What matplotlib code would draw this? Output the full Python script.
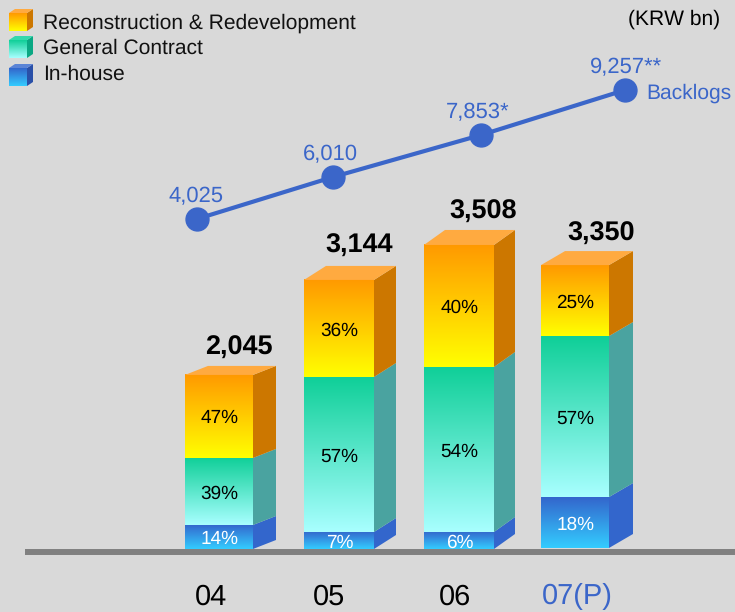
import matplotlib

matplotlib.use("Agg")
import matplotlib.pyplot as plt
import numpy as np
from matplotlib.colors import LinearSegmentedColormap
from matplotlib.patches import Polygon

plt.rcParams["font.family"] = ["Liberation Sans", "DejaVu Sans"]
plt.rcParams["text.hinting"] = "no_hinting"
plt.rcParams["text.hinting_factor"] = 1

years = ["04", "05", "06", "07(P)"]
totals = ["2,045", "3,144", "3,508", "3,350"]
inhouse = [281, 199, 199, 596]
general = [784, 1813, 1930, 1883]
recon = [971, 1135, 1427, 830]
inhouse_pct = ["14%", "7%", "6%", "18%"]
general_pct = ["39%", "57%", "54%", "57%"]
recon_pct = ["47%", "36%", "40%", "25%"]
backlog_labels = ["4,025", "6,010", "7,853*", "9,257**"]
backlog_levels = [3860, 4351, 4842, 5368]
legend_names = ["Reconstruction & Redevelopment", "General Contract", "In-house"]

BG = "#d9d9d9"
BLUE = "#3b66c9"
PX_PER_UNIT = 0.0855
BASE_PX = 549

# layout, in reference pixels
bar_left = [185, 304, 424, 541]
bar_right = [253, 374, 494, 609]
bar_depth = [(23, 9), (22, 14), (21, 15), (24, 14)]
bar_base = [549, 549, 549, 548]
line_x = [197, 333, 481, 625]
total_xy = [(239, 348), (359, 246), (483.5, 212), (601, 234)]
backlog_label_x = [196, 330, 478, 626]
year_x = [211, 329, 455, 577]

orange = ("#ff9900", "#ffff00", "#cc7700")
green = ("#0fcf98", "#a8ffff", "#4aa3a0")
blue = ("#3366cc", "#33ccff", "#3366cc")
roof = "#ffaa40"


def gradient(ax, left, right, top, bottom, c_top, c_bottom):
    cmap = LinearSegmentedColormap.from_list("g", [c_top, c_bottom])
    ramp = np.linspace(0, 1, 128).reshape(-1, 1)
    ax.imshow(ramp, cmap=cmap, extent=(left, right, bottom, top), aspect="auto",
              interpolation="bilinear", zorder=3)


def block(ax, left, right, top, bottom, dx, dy, colors):
    # front face plus the side face going up and to the right
    gradient(ax, left, right, top, bottom, colors[0], colors[1])
    side = [(right, bottom), (right + dx, bottom - dy), (right + dx, top - dy), (right, top)]
    ax.add_patch(Polygon(side, closed=True, fc=colors[2], ec="none", zorder=3))


def lid(ax, left, right, top, dx, dy, color):
    pts = [(left, top), (left + dx, top - dy), (right + dx, top - dy), (right, top)]
    ax.add_patch(Polygon(pts, closed=True, fc=color, ec="none", zorder=3))


fig = plt.figure(figsize=(7.35, 6.12), dpi=100, facecolor=BG)
ax = fig.add_axes([0, 0, 1, 1])
ax.set_facecolor(BG)
ax.axis("off")

ax.plot([25, 735], [552, 552], color="#808080", lw=4.3, solid_capstyle="butt", zorder=2)

for i in range(len(years)):
    left, right = bar_left[i], bar_right[i]
    dx, dy = bar_depth[i]
    y = bar_base[i]
    for values, colors, pct, ink in [
        (inhouse, blue, inhouse_pct, "white"),
        (general, green, general_pct, "black"),
        (recon, orange, recon_pct, "black"),
    ]:
        top = y - values[i] * PX_PER_UNIT
        block(ax, left, right, top, y, dx, dy, colors)
        ax.text((left + right) / 2 + 0.5, (top + y) / 2 + 2, pct[i], color=ink, fontsize=13.6,
                ha="center", va="center", zorder=5)
        y = top
    lid(ax, left, right, y, dx, dy, roof)
    ax.text(total_xy[i][0], total_xy[i][1], totals[i], fontsize=19.5, fontweight="bold",
            ha="center", va="center", zorder=5)

levels_px = [BASE_PX - v * PX_PER_UNIT for v in backlog_levels]
ax.plot(line_x, levels_px, color=BLUE, lw=3, marker="o", ms=16.5, zorder=4)
for x, y, label in zip(backlog_label_x, levels_px, backlog_labels):
    ax.text(x, y - 22.5, label, color=BLUE, fontsize=15.6, ha="center", va="center", zorder=5)
ax.text(646, 93, "Backlogs", color=BLUE, fontsize=15.3, ha="left", va="center", zorder=5)

for x, label in zip(year_x, years):
    ax.text(x, 597, label, fontsize=21, ha="center", va="center",
            color=BLUE if "P" in label else "black", zorder=5)

ax.text(720, 19, "(KRW bn)", fontsize=15.2, ha="right", va="center")

# legend keys
key_tops = [13, 40, 68]
key_text_y = [23.5, 48.5, 74.5]
for top, text_y, name, colors, face in zip(
    key_tops, key_text_y, legend_names,
    [orange, green, blue],
    [roof, "#33d9ac", "#5b84d6"],
):
    side = {"#ffaa40": "#cc7700", "#33d9ac": "#0aa883", "#5b84d6": "#2a50a8"}[face]
    block(ax, 9, 27, top, top + 18, 6, 4, (colors[0], colors[1], side))
    lid(ax, 9, 27, top, 6, 4, face)
    ax.text(43, text_y, name, fontsize=15.4, ha="left", va="center", color="#111111")

ax.set_xlim(0, 735)
ax.set_ylim(612, 0)
fig.savefig("out.png", dpi=100, facecolor=BG)
